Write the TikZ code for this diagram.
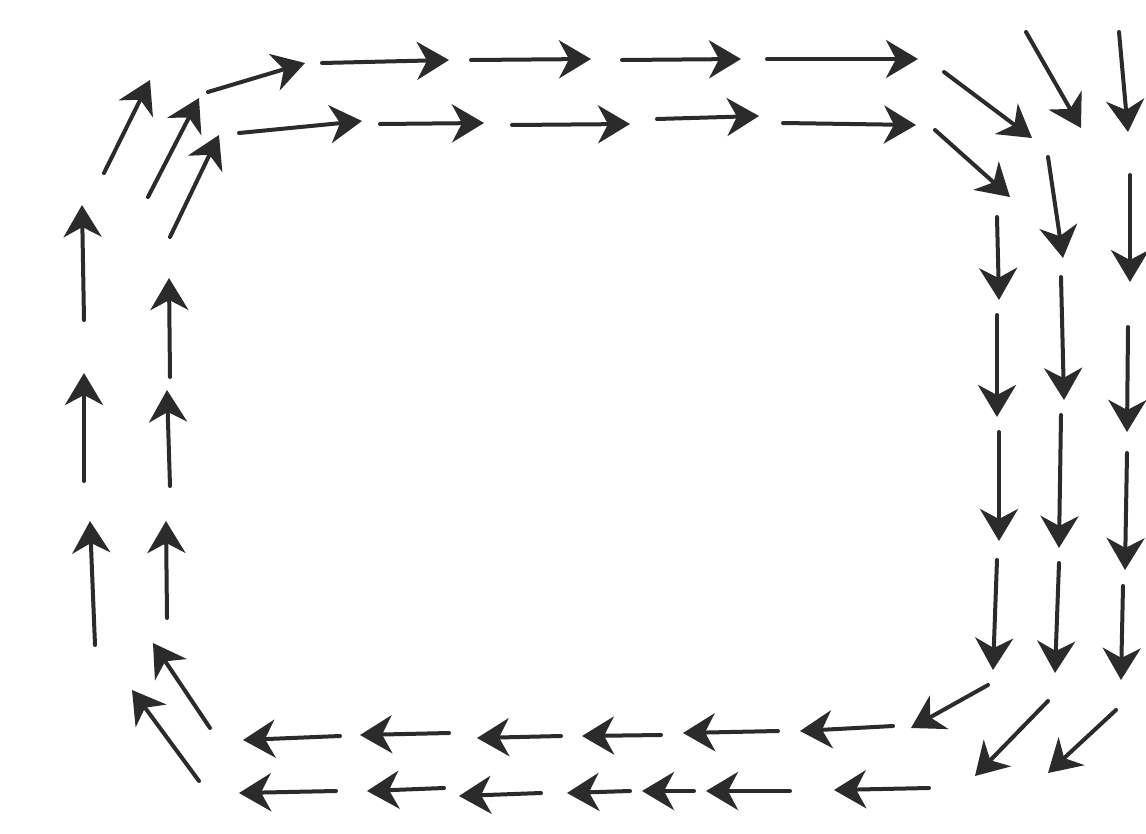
\documentclass[tikz,border=0pt]{standalone}
\usetikzlibrary{arrows.meta}
\definecolor{ink}{HTML}{2B2B2B}
\begin{document}
\begin{tikzpicture}[x=1pt,y=-1pt,>={Stealth[length=32pt,width=38pt,inset=10pt]},line cap=round,line join=round,
  flow/.style={->,draw=ink,line width=4pt}]
\useasboundingbox[fill=white] (0,0) rectangle (1146,833);
\draw[flow] (208,92) -- (305,63);
\draw[flow] (322,63) -- (449,60);
\draw[flow] (471,60) -- (591,59);
\draw[flow] (622,60) -- (741,59);
\draw[flow] (767,59) -- (918,59);
\draw[flow] (239,133) -- (362,121);
\draw[flow] (380,124) -- (484,123);
\draw[flow] (512,125) -- (630,124);
\draw[flow] (657,119) -- (759,116);
\draw[flow] (783,123) -- (916,125);
\draw[flow] (104,173) -- (150,80);
\draw[flow] (148,197) -- (199,98);
\draw[flow] (170,237) -- (219,135);
\draw[flow] (944,72) -- (1032,138);
\draw[flow] (1026,32) -- (1081,128);
\draw[flow] (1119,32) -- (1128,132);
\draw[flow] (935,130) -- (1010,197);
\draw[flow] (84,320) -- (82,205);
\draw[flow] (84,481) -- (84,373);
\draw[flow] (95,645) -- (90,521);
\draw[flow] (170,377) -- (169,278);
\draw[flow] (170,486) -- (167,390);
\draw[flow] (167,618) -- (166,521);
\draw[flow] (997,217) -- (999,300);
\draw[flow] (997,315) -- (997,417);
\draw[flow] (999,432) -- (999,541);
\draw[flow] (997,560) -- (993,670);
\draw[flow] (1048,157) -- (1063,258);
\draw[flow] (1061,277) -- (1064,400);
\draw[flow] (1061,415) -- (1059,548);
\draw[flow] (1059,563) -- (1055,673);
\draw[flow] (1130,175) -- (1130,282);
\draw[flow] (1128,327) -- (1127,432);
\draw[flow] (1127,453) -- (1125,570);
\draw[flow] (1123,586) -- (1121,680);
\draw[flow] (210,728) -- (153,643);
\draw[flow] (199,781) -- (132,690);
\draw[flow] (340,736) -- (243,740);
\draw[flow] (449,733) -- (360,735);
\draw[flow] (561,736) -- (477,738);
\draw[flow] (661,735) -- (582,736);
\draw[flow] (778,731) -- (683,733);
\draw[flow] (893,726) -- (800,731);
\draw[flow] (988,685) -- (911,728);
\draw[flow] (336,791) -- (239,793);
\draw[flow] (444,788) -- (367,791);
\draw[flow] (541,793) -- (459,796);
\draw[flow] (630,791) -- (567,793);
\draw[flow] (694,791) -- (642,791);
\draw[flow] (790,791) -- (706,791);
\draw[flow] (929,788) -- (834,790);
\draw[flow] (1048,701) -- (975,776);
\draw[flow] (1116,710) -- (1048,773);
\end{tikzpicture}
\end{document}
